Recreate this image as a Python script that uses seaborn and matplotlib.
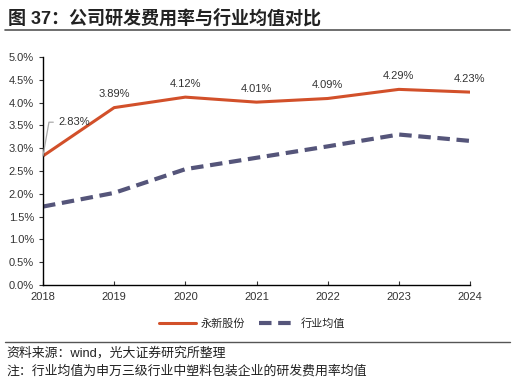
import matplotlib
matplotlib.use("Agg")
import matplotlib.pyplot as plt
import seaborn as sns
import pandas as pd

years = [2018, 2019, 2020, 2021, 2022, 2023, 2024]
company = [2.83, 3.89, 4.12, 4.01, 4.09, 4.29, 4.23]
industry = [1.72, 2.02, 2.54, 2.79, 3.04, 3.30, 3.16]
company_name = "永新股份"
industry_name = "行业均值"

sns.set_style("white")
plt.rcParams["font.family"] = ["Liberation Sans", "Noto Sans CJK SC", "DejaVu Sans"]

fig = plt.figure(figsize=(5.16, 3.81), dpi=100)
ax = fig.add_axes([43 / 516, 1 - 285 / 381, 427 / 516, 228 / 381])

df = pd.DataFrame({"year": years, company_name: company, industry_name: industry})

sns.lineplot(data=df, x="year", y=company_name, ax=ax, color="#d2502a",
             linewidth=2.2, label=company_name)
sns.lineplot(data=df, x="year", y=industry_name, ax=ax, color="#55557a",
             linewidth=3, linestyle=(0, (3, 1.6)), label=industry_name)

ax.set_xlim(2018, 2024)
ax.set_ylim(0, 5)
ax.set_yticks([i * 0.5 for i in range(11)])
ax.set_yticklabels([f"{i * 0.5:.1f}%" for i in range(11)])
ax.set_xticks(years)
ax.set_xticklabels([str(y) for y in years])
ax.set_xlabel("")
ax.set_ylabel("")
for s in ["top", "right"]:
    ax.spines[s].set_visible(False)
for s in ["left", "bottom"]:
    ax.spines[s].set_color("black")
    ax.spines[s].set_linewidth(1)
ax.tick_params(axis="y", direction="out", length=3, labelsize=8,
               colors="#333333", left=True)
ax.tick_params(axis="x", direction="in", length=3, labelsize=8,
               colors="#333333", bottom=True, pad=5)

# value labels
for x, v in zip(years[1:], company[1:]):
    ax.text(x, v + 0.18, f"{v:.2f}%", ha="center", va="bottom",
            fontsize=8, color="#333333")
ax.annotate(f"{company[0]:.2f}%", xy=(years[0], company[0]),
            xytext=(2018.21, 3.57), fontsize=8, color="#333333",
            va="center", ha="left",
            arrowprops=dict(arrowstyle="-", color="#aaaaaa", lw=0.9,
                            relpos=(0, 0.5),
                            connectionstyle="angle,angleA=0,angleB=80,rad=0",
                            shrinkA=1, shrinkB=0))

ax.legend(loc="upper center", bbox_to_anchor=(0.49, -0.1), ncol=2,
          frameon=False, fontsize=8, handlelength=3.3, columnspacing=1.3,
          handletextpad=0.4)

fig.text(8 / 516, 1 - 18 / 381, "图 37：公司研发费用率与行业均值对比",
         fontsize=13, fontweight="bold", va="center", color="#222222")
fig.add_artist(plt.Line2D([5 / 516, 510 / 516], [1 - 30 / 381] * 2,
                          color="#555555", linewidth=1.2))
fig.add_artist(plt.Line2D([5 / 516, 510 / 516], [1 - 342 / 381] * 2,
                          color="#555555", linewidth=1))
fig.text(6 / 516, 1 - 353 / 381, "资料来源：wind，光大证券研究所整理",
         fontsize=9.3, va="center", color="#222222")
fig.text(6 / 516, 1 - 371 / 381, "注：行业均值为申万三级行业中塑料包装企业的研发费用率均值",
         fontsize=9.3, va="center", color="#222222")

fig.savefig("out.png", dpi=100)
